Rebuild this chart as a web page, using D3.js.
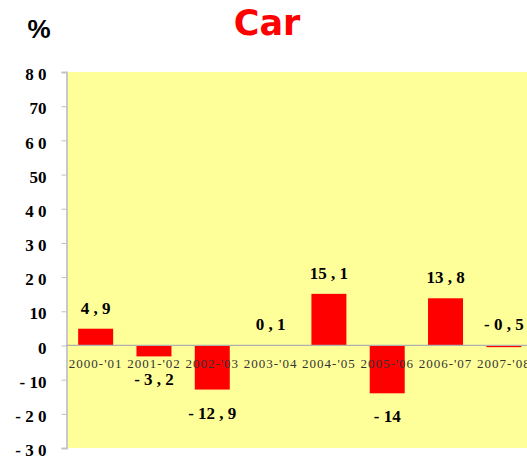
<!DOCTYPE html>
<html><head><meta charset="utf-8">
<script src="https://cdn.jsdelivr.net/npm/d3@7/dist/d3.min.js"></script>
<style>body{margin:0;background:#fff}svg{display:block}</style>
</head><body>
<script>
const categories = ["2000-'01","2001-'02","2002-'03","2003-'04","2004-'05","2005-'06","2006-'07","2007-'08"];
const values = [4.9, -3.2, -12.9, 0.1, 15.1, -14, 13.8, -0.5];
const valueLabels = ["4 , 9","- 3 , 2","- 12 , 9","0 , 1","15 , 1","- 14","13 , 8","- 0 , 5"];
const labelSide = ["above","below","below","above","above","below","above","above"];
const yTicks = [80,70,60,50,40,30,20,10,0,-10,-20,-30];
const yTickLabels = ["8 0","70","6 0","50","4 0","3 0","2 0","10","0","- 10","- 2 0","- 3 0"];

const W = 527, H = 460;
const svg = d3.select("body").append("svg").attr("width", W).attr("height", H);
const pLeft = 66.5, pRight = 533, pTop = 72, pBottom = 448;

const x = d3.scaleBand().domain(categories).range([pLeft, pRight]).paddingInner(0.4).paddingOuter(0.2);
const y = d3.scaleLinear().domain([-30, 80]).range([pBottom, pTop]);

svg.append("rect").attr("x", pLeft).attr("y", pTop).attr("width", pRight - pLeft).attr("height", pBottom - pTop).attr("fill", "#FFFF99");

// left axis
const yAxis = d3.axisLeft(y).tickValues(yTicks).tickSize(5).tickFormat((d,i) => yTickLabels[i]);
const ga = svg.append("g").attr("transform", `translate(${pLeft},0)`).call(yAxis);
ga.select(".domain").attr("stroke", "#c8c8c8").attr("stroke-width", 2);
ga.selectAll(".tick line").attr("stroke", "#c0c0c0");
ga.selectAll(".tick text").attr("x", -20).attr("dy", "0.45em")
  .attr("font-family", "'Liberation Serif', serif").attr("font-weight", "bold")
  .attr("font-size", 17).attr("fill", "#000");

// bars
svg.selectAll("rect.bar").data(values).join("rect").attr("class", "bar")
  .attr("x", (d,i) => x(categories[i]))
  .attr("width", x.bandwidth())
  .attr("y", d => y(Math.max(0, d)))
  .attr("height", d => Math.abs(y(d) - y(0)))
  .attr("fill", "#FF0000");

// zero line
svg.append("line").attr("x1", pLeft).attr("x2", pRight).attr("y1", y(0)).attr("y2", y(0)).attr("stroke", "#b0b0b0").attr("stroke-width", 1.2);

// category labels
svg.selectAll("text.cat").data(categories).join("text").attr("class", "cat")
  .attr("x", d => x(d) + x.bandwidth()/2)
  .attr("y", y(0) + 23)
  .attr("text-anchor", "middle")
  .attr("font-family", "'Liberation Serif', serif")
  .attr("font-size", 13).attr("letter-spacing", 1).attr("fill", "#333")
  .text(d => d);

// value labels
svg.selectAll("text.val").data(values).join("text").attr("class", "val")
  .attr("x", (d,i) => x(categories[i]) + x.bandwidth()/2)
  .attr("y", (d,i) => labelSide[i] === "above" ? y(Math.max(0, d)) - 15 : y(Math.min(0, d)) + 29)
  .attr("text-anchor", "middle")
  .attr("font-family", "'Liberation Serif', serif")
  .attr("font-weight", "bold").attr("font-size", 17).attr("fill", "#000")
  .text((d,i) => valueLabels[i]);

// title
svg.append("text").attr("x", 267).attr("y", 35).attr("text-anchor", "middle")
  .attr("font-family", "'DejaVu Sans', sans-serif").attr("font-weight", "bold")
  .attr("font-size", 35).attr("fill", "#FF0000").text("Car");

svg.append("text").attr("x", 39).attr("y", 38).attr("text-anchor", "middle")
  .attr("font-family", "'Liberation Sans', sans-serif").attr("font-weight", "bold")
  .attr("font-size", 26).attr("fill", "#000").text("%");
</script>
</body></html>
